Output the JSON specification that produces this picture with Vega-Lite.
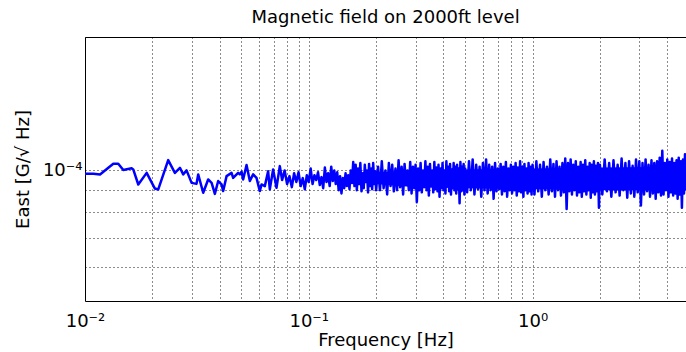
{
  "$schema": "https://vega.github.io/schema/vega-lite/v6.json",
  "autosize": "none",
  "width": 601,
  "height": 264,
  "padding": {"left": 85, "top": 37, "right": 0, "bottom": 51},
  "background": "white",
  "title": {"text": "Magnetic field on 2000ft level", "fontSize": 18, "fontWeight": "normal", "font": "DejaVu Sans", "color": "#000", "anchor": "middle", "offset": 10},
  "config": {
    "view": {"stroke": "#000", "strokeWidth": 1},
    "axis": {"labelFont": "DejaVu Sans", "titleFont": "DejaVu Sans", "labelColor": "#000", "titleColor": "#000", "titleFontWeight": "normal", "labelFontSize": 18, "titleFontSize": 18, "gridColor": "#000", "gridDash": [1, 3], "gridOpacity": 0.9, "gridWidth": 1, "domain": false, "ticks": false, "labelOverlap": false, "labelFlush": false, "labelBound": false}
  },
  "datasets": {
    "core": [
      {"f":0.2,"lo":9.3e-5,"hi":9.9e-5},{"f":0.3,"lo":9.15e-5,"hi":1.0e-4},{"f":0.5,"lo":9.1e-5,"hi":1.005e-4},
      {"f":1.0,"lo":9.05e-5,"hi":1.01e-4},{"f":2.0,"lo":9.0e-5,"hi":1.015e-4},{"f":4.85,"lo":9.0e-5,"hi":1.02e-4}
    ],
    "psd": [
    {"f":0.0100,"v":9.82e-5},{"f":0.0109,"v":9.82e-5},{"f":0.01167,"v":9.79e-5},{"f":0.01338,"v":1.036e-4},{"f":0.01408,"v":1.036e-4},
    {"f":0.01483,"v":1.002e-4},{"f":0.01616,"v":1.011e-4},{"f":0.01643,"v":1.005e-4},{"f":0.0173,"v":9.28e-5},{"f":0.01886,"v":9.87e-5},
    {"f":0.02053,"v":9.08e-5},{"f":0.02125,"v":9.04e-5},{"f":0.02354,"v":1.056e-4},{"f":0.02522,"v":9.87e-5},{"f":0.02656,"v":1.014e-4},
    {"f":0.02747,"v":9.79e-5},{"f":0.02844,"v":1.0e-4},{"f":0.02995,"v":9.36e-5},{"f":0.0315,"v":9.31e-5},{"f":0.03205,"v":9.79e-5},
    {"f":0.03375,"v":8.88e-5},{"f":0.03551,"v":9.53e-5},{"f":0.0368,"v":9.36e-5},{"f":0.03805,"v":8.83e-5},{"f":0.03937,"v":9.45e-5},
    {"f":0.04077,"v":9.28e-5},{"f":0.04145,"v":8.96e-5},{"f":0.04292,"v":9.7e-5},{"f":0.04518,"v":9.87e-5},{"f":0.04592,"v":9.61e-5},
    {"f":0.04834,"v":9.87e-5},{"f":0.0492,"v":9.79e-5},{"f":0.05008,"v":9.93e-5},{"f":0.0509,"v":9.53e-5},{"f":0.05271,"v":1.029e-4},
    {"f":0.05453,"v":9.45e-5},{"f":0.05641,"v":9.79e-5},{"f":0.05841,"v":9.61e-5},{"f":0.06043,"v":8.96e-5},{"f":0.0615,"v":9.28e-5},
    {"f":0.06362,"v":9.2e-5},{"f":0.06581,"v":9.96e-5},{"f":0.06697,"v":9.04e-5},{"f":0.06928,"v":1.005e-4},{"f":0.07175,"v":9.12e-5},
    {"f":0.07422,"v":1.023e-4},
    {"f":0.076,"v":9.5e-5},{"f":0.078,"v":1.0e-4},{"f":0.080,"v":9.3e-5},{"f":0.082,"v":9.7e-5},{"f":0.084,"v":9.15e-5},
    {"f":0.086,"v":9.85e-5},{"f":0.088,"v":9.4e-5},{"f":0.090,"v":9.9e-5},{"f":0.092,"v":9.2e-5},{"f":0.094,"v":9.6e-5},
    {"f":0.096,"v":9.05e-5},{"f":0.098,"v":9.75e-5},{"f":0.100,"v":9.4e-5},{"f":0.102,"v":1.01e-4},{"f":0.104,"v":9.3e-5},
    {"f":0.106,"v":9.75e-5},{"f":0.108,"v":9.5e-5},{"f":0.110,"v":9.9e-5},{"f":0.112,"v":9.25e-5},{"f":0.114,"v":9.65e-5},
    {"f":0.116,"v":9.1e-5},{"f":0.118,"v":1.015e-4},{"f":0.120,"v":9.4e-5},{"f":0.122,"v":9.85e-5},{"f":0.124,"v":9.2e-5},
    {"f":0.126,"v":1.02e-4},{"f":0.128,"v":9.45e-5},{"f":0.130,"v":1.0e-4},{"f":0.132,"v":9.3e-5},{"f":0.134,"v":9.9e-5},
    {"f":0.136,"v":9.0e-5},{"f":0.138,"v":9.7e-5},{"f":0.140,"v":8.85e-5},{"f":0.142,"v":9.6e-5},{"f":0.144,"v":9.1e-5},
    {"f":0.146,"v":9.85e-5},{"f":0.148,"v":9.2e-5},{"f":0.150,"v":9.75e-5},{"f":0.152,"v":9.05e-5},{"f":0.154,"v":1.0e-4},
    {"f":0.156,"v":9.35e-5},{"f":0.158,"v":1.045e-4},{"f":0.160,"v":9.2e-5},{"f":0.162,"v":1.03e-4},{"f":0.164,"v":9.0e-5},
    {"f":0.166,"v":1.01e-4},{"f":0.168,"v":9.3e-5},{"f":0.170,"v":1.04e-4},{"f":0.172,"v":8.95e-5},{"f":0.174,"v":9.85e-5},
    {"f":0.176,"v":9.1e-5},{"f":0.178,"v":1.03e-4},{"f":0.180,"v":9.4e-5},{"f":0.182,"v":1.0e-4},{"f":0.184,"v":8.9e-5},
    {"f":0.186,"v":1.035e-4},{"f":0.188,"v":9.2e-5},{"f":0.190,"v":1.01e-4},{"f":0.192,"v":9.05e-5},{"f":0.194,"v":1.04e-4},
    {"f":0.196,"v":9.3e-5},{"f":0.198,"v":9.95e-5},{"f":0.200,"v":9.0e-5},
    {"f":0.204,"v":1.02e-4},{"f":0.208,"v":9.0e-5},{"f":0.212,"v":1.05e-4},{"f":0.216,"v":9.1e-5},{"f":0.220,"v":1.0e-4},
    {"f":0.224,"v":8.8e-5},{"f":0.228,"v":1.04e-4},{"f":0.232,"v":9.2e-5},{"f":0.236,"v":1.03e-4},{"f":0.240,"v":8.95e-5},
    {"f":0.244,"v":1.01e-4},{"f":0.248,"v":9.0e-5},{"f":0.252,"v":1.055e-4},{"f":0.256,"v":9.15e-5},{"f":0.260,"v":1.02e-4},
    {"f":0.264,"v":8.8e-5},{"f":0.268,"v":1.035e-4},{"f":0.272,"v":9.3e-5},{"f":0.276,"v":1.0e-4},{"f":0.280,"v":9.0e-5},
    {"f":0.284,"v":1.045e-4},{"f":0.288,"v":8.85e-5},{"f":0.292,"v":1.02e-4},{"f":0.296,"v":9.1e-5},{"f":0.300,"v":1.03e-4},
    {"f":0.304,"v":8.45e-5},{"f":0.308,"v":1.01e-4},{"f":0.312,"v":9.0e-5},{"f":0.316,"v":1.04e-4},{"f":0.320,"v":8.9e-5},
    {"f":0.324,"v":1.0e-4},{"f":0.328,"v":9.15e-5},{"f":0.332,"v":1.05e-4},{"f":0.336,"v":9.0e-5},{"f":0.340,"v":1.02e-4},
    {"f":0.344,"v":8.75e-5},{"f":0.348,"v":1.035e-4},{"f":0.352,"v":9.2e-5},{"f":0.356,"v":1.0e-4},{"f":0.360,"v":8.9e-5},
    {"f":0.364,"v":1.045e-4},{"f":0.368,"v":9.05e-5},{"f":0.372,"v":1.015e-4},{"f":0.376,"v":8.95e-5},{"f":0.380,"v":1.03e-4},
    {"f":0.384,"v":8.7e-5},{"f":0.388,"v":1.01e-4},{"f":0.392,"v":9.1e-5},{"f":0.396,"v":1.04e-4},{"f":0.400,"v":9.0e-5},
    {"f":0.404,"v":1.0e-4},{"f":0.408,"v":8.85e-5},{"f":0.412,"v":1.05e-4},{"f":0.416,"v":9.2e-5},{"f":0.420,"v":1.02e-4},
    {"f":0.424,"v":8.95e-5},{"f":0.428,"v":1.035e-4},{"f":0.432,"v":8.8e-5},{"f":0.436,"v":1.005e-4},{"f":0.440,"v":9.1e-5},
    {"f":0.444,"v":1.04e-4},{"f":0.448,"v":9.0e-5},{"f":0.452,"v":1.02e-4},{"f":0.456,"v":8.85e-5},{"f":0.460,"v":1.03e-4},
    {"f":0.464,"v":9.05e-5},{"f":0.468,"v":1.01e-4},{"f":0.472,"v":8.4e-5},{"f":0.476,"v":1.045e-4},{"f":0.480,"v":8.95e-5},
    {"f":0.484,"v":1.02e-4},{"f":0.488,"v":9.0e-5},{"f":0.492,"v":1.035e-4},{"f":0.496,"v":8.8e-5},{"f":0.500,"v":1.01e-4},
    {"f":0.51,"v":8.9e-5},{"f":0.52,"v":1.05e-4},{"f":0.53,"v":9.0e-5},{"f":0.54,"v":1.06e-4},{"f":0.55,"v":8.8e-5},
    {"f":0.56,"v":1.03e-4},{"f":0.57,"v":9.05e-5},{"f":0.58,"v":1.02e-4},{"f":0.59,"v":8.7e-5},{"f":0.60,"v":1.04e-4},
    {"f":0.61,"v":9.0e-5},{"f":0.62,"v":1.06e-4},{"f":0.63,"v":8.85e-5},{"f":0.64,"v":1.03e-4},{"f":0.65,"v":9.0e-5},
    {"f":0.66,"v":1.02e-4},{"f":0.67,"v":8.6e-5},{"f":0.68,"v":1.04e-4},{"f":0.69,"v":8.95e-5},{"f":0.70,"v":1.01e-4},
    {"f":0.71,"v":9.05e-5},{"f":0.72,"v":1.035e-4},{"f":0.73,"v":8.8e-5},{"f":0.74,"v":1.02e-4},{"f":0.75,"v":8.95e-5},
    {"f":0.76,"v":1.045e-4},{"f":0.77,"v":8.7e-5},{"f":0.78,"v":1.01e-4},{"f":0.79,"v":9.0e-5},{"f":0.80,"v":1.03e-4},
    {"f":0.81,"v":8.85e-5},{"f":0.82,"v":1.02e-4},{"f":0.83,"v":9.0e-5},{"f":0.84,"v":1.04e-4},{"f":0.85,"v":8.75e-5},
    {"f":0.86,"v":1.015e-4},{"f":0.87,"v":8.95e-5},{"f":0.88,"v":1.05e-4},{"f":0.89,"v":8.9e-5},{"f":0.90,"v":1.02e-4},
    {"f":0.91,"v":8.7e-5},{"f":0.92,"v":1.035e-4},{"f":0.93,"v":9.0e-5},{"f":0.94,"v":1.01e-4},{"f":0.95,"v":8.85e-5},
    {"f":0.96,"v":1.04e-4},{"f":0.97,"v":8.95e-5},{"f":0.98,"v":1.02e-4},{"f":0.99,"v":8.8e-5},{"f":1.00,"v":1.03e-4},
    {"f":1.02,"v":8.8e-5},{"f":1.04,"v":1.05e-4},{"f":1.06,"v":8.95e-5},{"f":1.08,"v":1.03e-4},{"f":1.10,"v":8.7e-5},
    {"f":1.12,"v":1.045e-4},{"f":1.14,"v":9.0e-5},{"f":1.16,"v":1.02e-4},{"f":1.18,"v":8.8e-5},{"f":1.20,"v":1.06e-4},
    {"f":1.22,"v":8.95e-5},{"f":1.24,"v":1.035e-4},{"f":1.26,"v":8.7e-5},{"f":1.28,"v":1.05e-4},{"f":1.30,"v":9.0e-5},
    {"f":1.32,"v":1.02e-4},{"f":1.34,"v":8.75e-5},{"f":1.36,"v":1.04e-4},{"f":1.38,"v":8.9e-5},{"f":1.40,"v":1.065e-4},
    {"f":1.42,"v":8.15e-5},{"f":1.44,"v":1.04e-4},{"f":1.46,"v":8.95e-5},{"f":1.48,"v":1.06e-4},{"f":1.50,"v":8.8e-5},
    {"f":1.52,"v":1.03e-4},{"f":1.54,"v":9.0e-5},{"f":1.56,"v":1.05e-4},{"f":1.58,"v":8.75e-5},{"f":1.60,"v":1.02e-4},
    {"f":1.62,"v":8.9e-5},{"f":1.64,"v":1.045e-4},{"f":1.66,"v":8.7e-5},{"f":1.68,"v":1.03e-4},{"f":1.70,"v":8.95e-5},
    {"f":1.72,"v":1.055e-4},{"f":1.74,"v":8.8e-5},{"f":1.76,"v":1.02e-4},{"f":1.78,"v":9.0e-5},{"f":1.80,"v":1.04e-4},
    {"f":1.82,"v":8.65e-5},{"f":1.84,"v":1.03e-4},{"f":1.86,"v":8.9e-5},{"f":1.88,"v":1.05e-4},{"f":1.90,"v":8.8e-5},
    {"f":1.92,"v":1.025e-4},{"f":1.94,"v":8.95e-5},{"f":1.96,"v":1.04e-4},{"f":1.98,"v":8.2e-5},{"f":2.00,"v":1.03e-4},
    {"f":2.05,"v":8.8e-5},{"f":2.10,"v":1.06e-4},{"f":2.15,"v":8.95e-5},{"f":2.20,"v":1.04e-4},{"f":2.25,"v":8.7e-5},
    {"f":2.30,"v":1.055e-4},{"f":2.35,"v":8.9e-5},{"f":2.40,"v":1.03e-4},{"f":2.45,"v":8.75e-5},{"f":2.50,"v":1.065e-4},
    {"f":2.55,"v":9.0e-5},{"f":2.60,"v":1.04e-4},{"f":2.65,"v":8.65e-5},{"f":2.70,"v":1.05e-4},{"f":2.75,"v":8.85e-5},
    {"f":2.80,"v":1.025e-4},{"f":2.85,"v":8.7e-5},{"f":2.90,"v":1.06e-4},{"f":2.95,"v":8.9e-5},{"f":3.00,"v":1.05e-4},
    {"f":3.05,"v":8.3e-5},{"f":3.10,"v":1.04e-4},{"f":3.15,"v":8.8e-5},{"f":3.20,"v":1.06e-4},{"f":3.25,"v":8.95e-5},
    {"f":3.30,"v":1.03e-4},{"f":3.35,"v":8.7e-5},{"f":3.40,"v":1.055e-4},{"f":3.45,"v":8.85e-5},{"f":3.50,"v":1.04e-4},
    {"f":3.55,"v":8.6e-5},{"f":3.60,"v":1.05e-4},{"f":3.65,"v":8.9e-5},{"f":3.70,"v":1.07e-4},{"f":3.75,"v":8.75e-5},
    {"f":3.80,"v":1.11e-4},{"f":3.85,"v":8.8e-5},{"f":3.90,"v":1.04e-4},{"f":3.95,"v":9.0e-5},{"f":4.00,"v":1.06e-4},
    {"f":4.05,"v":8.7e-5},{"f":4.10,"v":1.045e-4},{"f":4.15,"v":8.9e-5},{"f":4.20,"v":1.065e-4},{"f":4.25,"v":8.75e-5},
    {"f":4.30,"v":1.04e-4},{"f":4.35,"v":8.85e-5},{"f":4.40,"v":1.055e-4},{"f":4.45,"v":8.6e-5},{"f":4.50,"v":1.07e-4},
    {"f":4.55,"v":8.8e-5},{"f":4.60,"v":1.05e-4},{"f":4.65,"v":8.2e-5},{"f":4.70,"v":1.06e-4},{"f":4.75,"v":8.85e-5},
    {"f":4.80,"v":1.09e-4},{"f":4.85,"v":9.0e-5}
    ]
  },
  "layer": [
    {
      "data": {"name": "core"},
      "mark": {"type": "area", "color": "#0000ff", "clip": true},
      "encoding": {
        "x": {"field": "f", "type": "quantitative", "scale": {"type": "log", "domain": [0.01, 4.85], "nice": false},
          "axis": {"title": "Frequency [Hz]", "values": [0.01,0.02,0.03,0.04,0.05,0.06,0.07,0.08,0.09,0.1,0.2,0.3,0.4,0.5,0.6,0.7,0.8,0.9,1,2,3,4],
            "labelExpr": "datum.value==0.01?'10⁻²':datum.value==0.1?'10⁻¹':datum.value==1?'10⁰':''", "labelPadding": 11, "titlePadding": 1, "grid": true}},
        "y": {"field": "lo", "type": "quantitative", "scale": {"type": "log", "domain": [5e-5, 2.03e-4], "nice": false},
          "axis": {"title": "East [G/√ Hz]", "values": [6e-5,7e-5,8e-5,9e-5,1e-4], "labelExpr": "datum.value==0.0001?'10⁻⁴':''", "labelPadding": 3, "titlePadding": 10, "grid": true}},
        "y2": {"field": "hi"}
      }
    },
    {
      "data": {"name": "psd"},
      "mark": {"type": "line", "color": "#0000ff", "strokeWidth": 2.5, "clip": true, "strokeJoin": "round"},
      "encoding": {
        "x": {"field": "f", "type": "quantitative"},
        "y": {"field": "v", "type": "quantitative"}
      }
    }
  ]
}
